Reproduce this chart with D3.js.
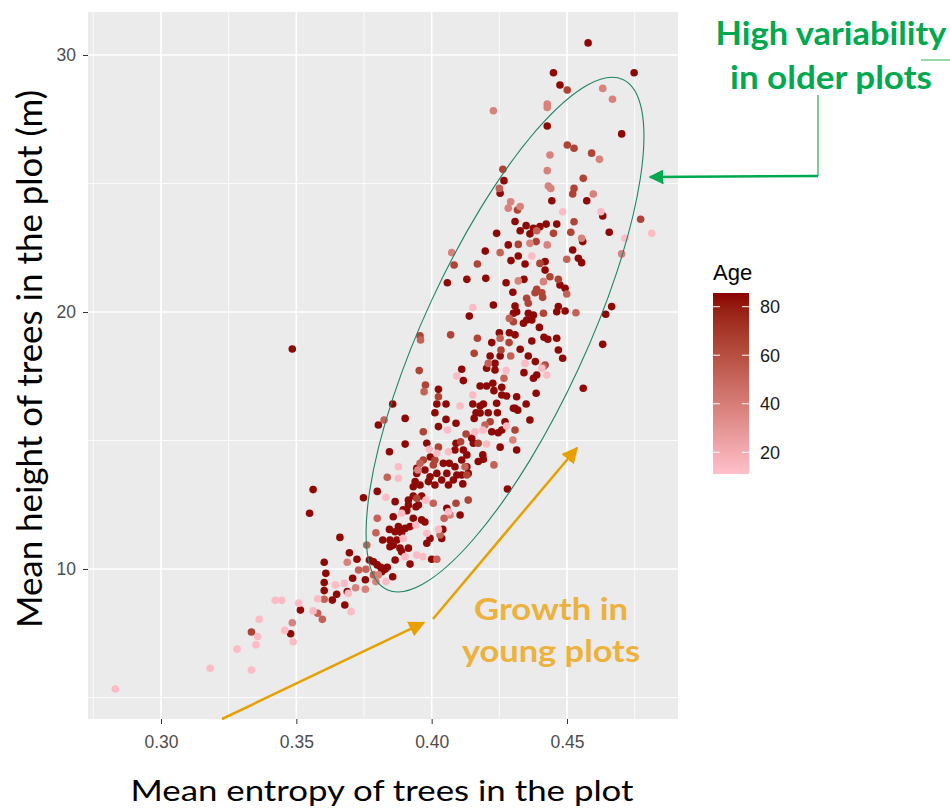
<!DOCTYPE html>
<html><head><meta charset="utf-8">
<script src="https://cdn.jsdelivr.net/npm/d3@7"></script>
<style>body{margin:0;background:#fff}svg{display:block}</style>
</head><body>
<svg id="chart" width="950" height="809"></svg>
<script>
// ---- data: [mean entropy, mean height] grouped by plot age ----
const ageDark = 84, ageMid = 65, ageSalmon = 52, ageLight = 38, agePink = 13;
const pointsDark = [[0.4578,30.47],[0.4450,29.31],[0.4748,29.31],[0.4474,28.83],[0.4427,27.24],[0.4702,26.93],[0.4267,25.11],[0.4253,24.62],[0.4573,24.33],[0.4444,24.33],[0.4632,23.74],[0.4656,23.10],[0.4308,23.52],[0.4349,23.36],[0.4376,23.26],[0.4400,23.32],[0.4423,23.42],[0.4462,23.42],[0.4240,23.06],[0.4327,23.16],[0.4363,23.04],[0.4558,22.74],[0.4198,22.37],[0.4283,22.61],[0.4521,22.41],[0.4320,22.18],[0.4293,22.00],[0.4345,21.87],[0.4419,21.96],[0.4419,21.63],[0.4542,22.09],[0.4554,21.92],
[0.4058,21.14],[0.4130,21.27],[0.4200,21.31],[0.4275,21.14],[0.4341,21.27],[0.4300,20.77],[0.4474,21.05],[0.4493,20.92],[0.4308,20.23],[0.4228,20.27],[0.4468,20.21],[0.4665,20.21],[0.4643,19.91],[0.4139,19.84],[0.4314,20.01],[0.4302,19.95],[0.4357,19.95],[0.4376,19.88],[0.4351,19.69],[0.4339,19.56],[0.4370,19.69],[0.4462,20.01],[0.4493,20.04],
[0.4250,19.19],[0.4287,19.19],[0.4308,19.11],[0.4398,19.40],[0.4415,19.02],[0.4429,18.94],[0.4462,18.98],[0.4370,18.87],[0.4222,18.81],[0.4253,18.29],[0.4216,18.29],[0.4327,18.55],[0.4357,18.29],[0.4383,18.07],[0.4234,18.00],[0.4234,17.74],[0.4203,17.81],[0.4341,17.64],[0.4388,17.55],[0.4468,18.52],[0.4484,18.20],[0.4632,18.74],[0.4560,17.03],[0.4111,17.77],[0.4117,17.33],[0.4376,17.42],[0.4386,16.84],[0.4349,16.42],[0.4363,15.80],[0.4308,16.25],[0.4318,16.18],
[0.4025,16.99],[0.4019,16.42],[0.4053,16.42],[0.4012,16.08],[0.4053,15.82],[0.4090,15.67],[0.4025,15.54],[0.4152,16.42],[0.4191,16.42],[0.4164,16.08],[0.4157,15.86],[0.4179,16.07],[0.4209,16.08],[0.4240,16.45],[0.4243,16.08],[0.4179,17.12],[0.4203,17.12],[0.4226,17.23],[0.4230,16.94],[0.4259,17.07],[0.4259,16.77],[0.4277,16.73],[0.4314,16.70],[0.4302,16.25],[0.4271,15.73],[0.4259,15.41],[0.4246,15.30],[0.4222,15.34],[0.4148,15.09],[0.4154,14.89],[0.4090,14.89],[0.4086,14.63],[0.4117,14.63],[0.4130,14.44],[0.4189,14.44],[0.4191,14.27],[0.4172,14.18],[0.4253,14.74],[0.4314,14.63],[0.3982,14.89],[0.3902,15.86],[0.3902,14.86],[0.3945,13.92],[0.3975,13.85],[0.4043,14.11],[0.4086,13.98],[0.4130,13.98],[0.4093,13.66],[0.4056,13.72],[0.4019,13.72],[0.3994,13.59],[0.3939,13.40],[0.3957,13.27],[0.3988,13.40],[0.4012,13.27],[0.4037,13.46],[0.4062,13.27],[0.4080,13.46],[0.3844,14.56],[0.3803,15.60],[0.3856,16.42],[0.3995,14.36],[0.4065,14.11],[0.4111,14.24],[0.4135,13.72],[0.4111,13.66],[0.3945,13.72],[0.3932,13.20],[0.4115,13.31],[0.4179,16.34],
[0.3865,12.62],[0.3895,12.30],[0.3914,12.68],[0.3951,12.49],[0.4056,12.36],[0.4105,12.10],[0.4280,13.11],[0.3932,11.97],[0.3963,11.91],[0.3858,12.03],[0.3844,11.54],[0.3877,11.65],[0.3902,11.58],[0.3975,11.83],[0.4041,11.54],[0.3994,11.19],[0.3982,11.00],[0.4037,11.19],[0.3819,11.13],[0.3871,11.13],[0.3846,10.87],[0.3883,10.81],[0.3914,10.81],[0.4000,10.38],[0.3865,10.35],[0.3920,10.19],[0.3932,12.84],[0.3963,12.84],[0.3914,12.49],[0.3942,12.42],[0.3908,12.27],[0.3920,11.65],[0.3865,11.45],[0.3889,11.41],[0.3846,11.13],[0.3858,10.93],[0.3889,10.67],[0.3770,10.35],[0.3785,10.28],[0.3799,10.16],[0.3812,10.07],[0.3828,9.99],[0.3816,9.89],[0.3836,10.07],[0.3856,9.70],
[0.3485,18.56],[0.3562,13.09],[0.3549,12.17],[0.3748,12.77],[0.3799,13.02],[0.3661,11.23],[0.3696,10.63],[0.3724,10.38],[0.3603,10.26],[0.3609,9.83],[0.3708,9.64],[0.3755,9.58],[0.3603,9.47],[0.3603,9.16],[0.3688,9.12],[0.3649,9.02],[0.3633,8.79],[0.3679,8.60],[0.3515,8.40],[0.3479,7.48]];
const pointsMid = [[0.4501,28.64],[0.4501,26.50],[0.4526,26.37],[0.4591,26.18],[0.4560,25.20],[0.4263,25.55],[0.4526,24.81],[0.4521,24.59],[0.4317,23.97],[0.4772,23.61],[0.4526,23.51],[0.4450,23.06],[0.4514,23.10],[0.4320,22.63],[0.4386,22.74],[0.4400,21.89],[0.4083,21.83],[0.4169,21.87],[0.4388,20.88],[0.4407,20.75],[0.4382,20.75],[0.4437,21.37],[0.4468,21.27],[0.4351,20.53],[0.4357,20.34],[0.4410,20.57],[0.4413,19.95],[0.4302,19.62],[0.4286,18.81],[0.4070,19.11],[0.4169,18.98],[0.4256,18.52],[0.4157,18.39],[0.4419,17.94],[0.3954,17.72],[0.3957,19.07],[0.3977,17.16],[0.4025,16.70],[0.4308,15.41],[0.4216,15.73],[0.4127,15.25],[0.4107,14.95],[0.4172,14.89],[0.4025,14.74],[0.3969,15.34],[0.3969,14.24],[0.4006,14.05],[0.4130,13.66],[0.4012,14.24],[0.3945,12.75],[0.4090,12.56],[0.4135,12.68],[0.3334,7.55]];
const pointsSalmon = [[0.4250,24.81],[0.4388,23.16],[0.4499,22.05],[0.4253,22.31],[0.4499,20.70],[0.4287,19.75],[0.4533,19.97],[0.4253,18.98],[0.4292,18.29],[0.4209,18.00],[0.4413,17.87],[0.3959,18.91],[0.3972,16.90],[0.4267,17.42],[0.4197,15.60],[0.4230,14.05],[0.3957,14.11],[0.4123,13.98],[0.3836,13.57],[0.3824,15.80],[0.4006,12.56],[0.4046,11.97],[0.3799,11.97],[0.4031,11.32],[0.4019,10.38],[0.3757,9.99],[0.3785,9.77],[0.3603,8.82],[0.3579,8.28],[0.3596,8.04],[0.3730,9.96],[0.3760,10.93],[0.3794,11.41]];
const pointsLight = [[0.4632,28.70],[0.4668,28.28],[0.4228,27.83],[0.4427,28.09],[0.4427,27.96],[0.4437,26.11],[0.4620,25.94],[0.4427,25.50],[0.4431,24.90],[0.4440,24.81],[0.4597,24.59],[0.4292,24.29],[0.4283,24.04],[0.4327,24.10],[0.4554,22.87],[0.4074,22.31],[0.4363,22.67],[0.4427,22.61],[0.4702,22.26],[0.4320,21.21],[0.4413,21.18],[0.4068,12.10],[0.4300,15.02],[0.3949,13.85],[0.3688,10.26],[0.3719,9.27],[0.3755,9.21],[0.3803,9.77],[0.3794,9.51],[0.3485,7.91]];
const pointsPink = [[0.4484,23.90],[0.4625,23.90],[0.4813,23.06],[0.4714,22.87],[0.4370,22.18],[0.4152,20.17],[0.4345,18.00],[0.4275,17.72],[0.4425,17.55],[0.4407,17.81],[0.4093,17.51],[0.4058,15.41],[0.4105,16.34],[0.4152,16.77],[0.4277,15.56],[0.4189,15.41],[0.4160,15.34],[0.4203,14.86],[0.4062,14.56],[0.3991,14.66],[0.4019,14.50],[0.3877,13.98],[0.3877,13.53],[0.3831,12.79],[0.3979,12.68],[0.4062,12.23],[0.3889,12.17],[0.3942,11.71],[0.3982,11.39],[0.3895,11.19],[0.4025,11.54],[0.3902,10.48],[0.3945,10.54],[0.3967,10.48],[0.3831,9.51],[0.3644,9.38],[0.3677,9.44],[0.3692,9.05],[0.3702,8.34],[0.3579,8.84],[0.3562,8.37],[0.3509,8.67],[0.3422,8.78],[0.3446,8.78],[0.3363,8.04],[0.3457,7.61],[0.3357,7.37],[0.3351,7.05],[0.3488,7.17],[0.3281,6.88],[0.3182,6.14],[0.3334,6.07],[0.2831,5.33]];

// axes / legend
const xTicks = [0.30, 0.35, 0.40, 0.45];
const xTickLabels = ["0.30", "0.35", "0.40", "0.45"];
const xMinor = [0.275, 0.325, 0.375, 0.425, 0.475];
const yTicks = [10, 20, 30];
const yTickLabels = ["10", "20", "30"];
const yMinor = [5, 15, 25];
const ageTicks = [20, 40, 60, 80];
const ageRange = [11.06, 85.64];

// annotations (data coordinates)
const ellipseCenter = [0.4271, 19.12];
const arrowYoung1 = [[0.32254, 4.163], [0.39709, 7.911]];
const arrowYoung2 = [[0.40049, 8.054], [0.45369, 14.708]];
const greenConnector = [[0.54273, 28.444], [0.54273, 25.292], [0.48066, 25.253]];

const svg = d3.select("#chart");
const L = 88, R = 678, T = 12, B = 719;
const x = d3.scaleLinear().domain([0.27303, 0.49101]).range([L, R]);
const y = d3.scaleLinear().domain([4.163, 31.673]).range([B, T]);
const col = d3.scaleLinear().domain(ageRange).range(["pink", "darkred"]).interpolate(d3.interpolateLab);

// panel
svg.append("rect").attr("x", L).attr("y", T).attr("width", R - L).attr("height", B - T).attr("fill", "#ebebeb");
const grid = svg.append("g");
xMinor.forEach(v => grid.append("line").attr("x1", x(v)).attr("x2", x(v)).attr("y1", T).attr("y2", B).attr("stroke", "#fff").attr("stroke-width", 0.8));
yMinor.forEach(v => grid.append("line").attr("y1", y(v)).attr("y2", y(v)).attr("x1", L).attr("x2", R).attr("stroke", "#fff").attr("stroke-width", 0.8));
xTicks.forEach(v => grid.append("line").attr("x1", x(v)).attr("x2", x(v)).attr("y1", T).attr("y2", B).attr("stroke", "#fff").attr("stroke-width", 1.7));
yTicks.forEach(v => grid.append("line").attr("y1", y(v)).attr("y2", y(v)).attr("x1", L).attr("x2", R).attr("stroke", "#fff").attr("stroke-width", 1.7));

// axes
const xAxis = d3.axisBottom(x).tickValues(xTicks).tickFormat((d, i) => xTickLabels[i]).tickSize(5).tickPadding(12);
const gx = svg.append("g").attr("transform", `translate(0,${B})`).call(xAxis);
gx.select(".domain").remove();
gx.selectAll(".tick line").attr("stroke", "#333");
gx.selectAll("text").attr("font-family", "Liberation Sans, Arial, sans-serif").attr("font-size", 17.5).attr("fill", "#4d4d4d");
const yAxis = d3.axisLeft(y).tickValues(yTicks).tickFormat((d, i) => yTickLabels[i]).tickSize(5).tickPadding(7);
const gy = svg.append("g").attr("transform", `translate(${L},0)`).call(yAxis);
gy.select(".domain").remove();
gy.selectAll(".tick line").attr("stroke", "#333");
gy.selectAll("text").attr("font-family", "Liberation Sans, Arial, sans-serif").attr("font-size", 17.5).attr("fill", "#4d4d4d");

// points
const groups = [
  {age: ageDark, pts: pointsDark},
  {age: ageMid, pts: pointsMid},
  {age: ageSalmon, pts: pointsSalmon},
  {age: ageLight, pts: pointsLight},
  {age: agePink, pts: pointsPink}
];
const pg = svg.append("g");
groups.forEach(g => {
  pg.selectAll(null).data(g.pts).enter().append("circle")
    .attr("cx", d => x(d[0])).attr("cy", d => y(d[1])).attr("r", 3.8)
    .attr("fill", col(g.age));
});

// ellipse annotation
svg.append("ellipse")
  .attr("cx", x(ellipseCenter[0])).attr("cy", y(ellipseCenter[1]))
  .attr("rx", 281).attr("ry", 81)
  .attr("transform", `rotate(-65.2, ${x(ellipseCenter[0])}, ${y(ellipseCenter[1])})`)
  .attr("fill", "none").attr("stroke", "#1d8466").attr("stroke-width", 1.1);

// axis titles
svg.append("text").attr("x", 382).attr("y", 801).attr("text-anchor", "middle")
  .attr("font-family", "Lato, sans-serif").attr("font-size", 29).attr("fill", "#000")
  .attr("textLength", 503).attr("lengthAdjust", "spacingAndGlyphs")
  .text("Mean entropy of trees in the plot");
svg.append("text").attr("transform", "translate(42,359) rotate(-90)").attr("text-anchor", "middle")
  .attr("font-family", "Lato, sans-serif").attr("font-size", 34).attr("fill", "#000")
  .attr("textLength", 538).attr("lengthAdjust", "spacingAndGlyphs")
  .text("Mean height of trees in the plot (m)");

// legend
const defs = svg.append("defs");
const grad = defs.append("linearGradient").attr("id", "ageGrad").attr("x1", 0).attr("y1", 1).attr("x2", 0).attr("y2", 0);
d3.range(0, 1.0001, 0.05).forEach(t => {
  grad.append("stop").attr("offset", t).attr("stop-color", col(ageRange[0] + t * (ageRange[1] - ageRange[0])));
});
const ay = d3.scaleLinear().domain(ageRange).range([474, 293]);
svg.append("text").attr("x", 713).attr("y", 280).attr("font-family", "Liberation Sans, Arial, sans-serif")
  .attr("font-size", 22).attr("fill", "#000").text("Age");
svg.append("rect").attr("x", 713).attr("y", 293).attr("width", 36).attr("height", 181).attr("fill", "url(#ageGrad)");
ageTicks.forEach(a => {
  svg.append("line").attr("x1", 713).attr("x2", 720).attr("y1", ay(a)).attr("y2", ay(a)).attr("stroke", "#fff").attr("stroke-width", 1);
  svg.append("line").attr("x1", 742).attr("x2", 749).attr("y1", ay(a)).attr("y2", ay(a)).attr("stroke", "#fff").attr("stroke-width", 1);
  svg.append("text").attr("x", 760).attr("y", ay(a) + 6.5).attr("font-family", "Liberation Sans, Arial, sans-serif")
    .attr("font-size", 18).attr("fill", "#1a1a1a").text(a);
});

// orange arrows and text
const orange = "#e8a000";
defs.append("marker").attr("id", "arrO").attr("viewBox", "0 0 10 10").attr("refX", 9).attr("refY", 5)
  .attr("markerWidth", 6.5).attr("markerHeight", 6.5).attr("orient", "auto").attr("markerUnits", "strokeWidth")
  .append("path").attr("d", "M0,0 L10,5 L0,10 z").attr("fill", orange);
[arrowYoung1, arrowYoung2].forEach(a => {
  svg.append("line").attr("x1", x(a[0][0])).attr("y1", y(a[0][1])).attr("x2", x(a[1][0])).attr("y2", y(a[1][1]))
    .attr("stroke", orange).attr("stroke-width", 2.5).attr("marker-end", "url(#arrO)");
});
svg.append("text").attr("x", 551).attr("y", 620).attr("text-anchor", "middle")
  .attr("font-family", "Lato, sans-serif").attr("font-weight", "bold").attr("font-size", 31).attr("fill", "#edb13d")
  .attr("textLength", 154).attr("lengthAdjust", "spacingAndGlyphs").text("Growth in");
svg.append("text").attr("x", 551).attr("y", 662).attr("text-anchor", "middle")
  .attr("font-family", "Lato, sans-serif").attr("font-weight", "bold").attr("font-size", 31).attr("fill", "#edb13d")
  .attr("textLength", 178).attr("lengthAdjust", "spacingAndGlyphs").text("young plots");

// green annotation
const green = "#00a84f";
svg.append("line").attr("x1", x(greenConnector[0][0])).attr("y1", y(greenConnector[0][1]))
  .attr("x2", x(greenConnector[1][0])).attr("y2", y(greenConnector[1][1]))
  .attr("stroke", "#4cbf6c").attr("stroke-width", 1.5);
defs.append("marker").attr("id", "arrG").attr("viewBox", "0 0 10 10").attr("refX", 9).attr("refY", 5)
  .attr("markerWidth", 6).attr("markerHeight", 6).attr("orient", "auto").attr("markerUnits", "strokeWidth")
  .append("path").attr("d", "M0,0 L10,5 L0,10 z").attr("fill", green);
svg.append("line").attr("x1", x(greenConnector[1][0])).attr("y1", y(greenConnector[1][1]))
  .attr("x2", x(greenConnector[2][0])).attr("y2", y(greenConnector[2][1]))
  .attr("stroke", green).attr("stroke-width", 2.5).attr("marker-end", "url(#arrG)");
svg.append("line").attr("x1", 921).attr("x2", 950).attr("y1", 60).attr("y2", 60).attr("stroke", "#4cbf6c").attr("stroke-width", 1.2);
svg.append("text").attr("x", 831).attr("y", 45).attr("text-anchor", "middle")
  .attr("font-family", "Lato, sans-serif").attr("font-weight", "bold").attr("font-size", 32).attr("fill", green)
  .attr("textLength", 231).attr("lengthAdjust", "spacingAndGlyphs").text("High variability");
svg.append("text").attr("x", 831).attr("y", 89).attr("text-anchor", "middle")
  .attr("font-family", "Lato, sans-serif").attr("font-weight", "bold").attr("font-size", 32).attr("fill", green)
  .attr("textLength", 202).attr("lengthAdjust", "spacingAndGlyphs").text("in older plots");
</script>
</body></html>
